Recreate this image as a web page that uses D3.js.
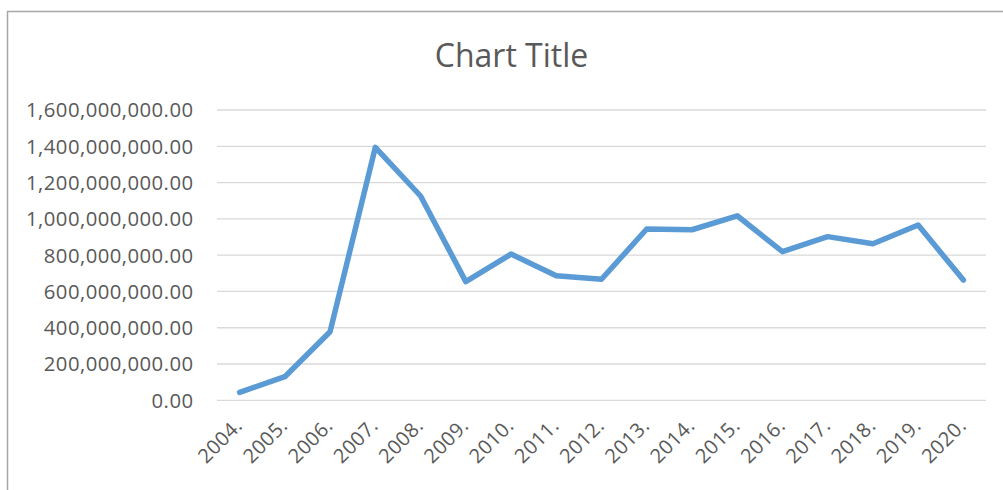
<!DOCTYPE html>
<html><head><meta charset="utf-8">
<script src="https://cdn.jsdelivr.net/npm/d3@7"></script>
<style>body{margin:0;background:#fff}svg{display:block}</style>
</head><body>
<svg id="c" width="1003" height="490"></svg>
<script>
const years = ["2004.","2005.","2006.","2007.","2008.","2009.","2010.","2011.","2012.","2013.","2014.","2015.","2016.","2017.","2018.","2019.","2020."];
const values = [44e6,130e6,378e6,1394e6,1126e6,654e6,806e6,687e6,667e6,944e6,940e6,1017e6,819e6,902e6,863e6,966e6,663e6];
const yTicks = [0,200e6,400e6,600e6,800e6,1000e6,1200e6,1400e6,1600e6];
const title = "Chart Title";

const svg = d3.select("#c");
const font = "'Open Sans', 'Noto Sans', sans-serif";
const txt = "#595959";

// border
svg.append("path").attr("d","M7.5,490 L7.5,11.5 L1003,11.5")
  .attr("fill","none").attr("stroke","#a6a6a6").attr("stroke-width",1.5);

const pL = 217, pR = 986, pT = 110, pB = 400.3;
const x = d3.scaleBand().domain(years).range([pL,pR]);
const y = d3.scaleLinear().domain([0,1600e6]).range([pB,pT]);

// grid
svg.append("g").selectAll("line").data(yTicks).join("line")
  .attr("x1",pL).attr("x2",pR)
  .attr("y1",d=>y(d)).attr("y2",d=>y(d))
  .attr("stroke","#d9d9d9").attr("stroke-width",1.3);

// y axis labels
const fmt = d3.format(",.2f");
const yAxis = d3.axisLeft(y).tickValues(yTicks).tickFormat(fmt).tickSize(0).tickPadding(0);
const gy = svg.append("g").attr("transform","translate(193.5,0)").call(yAxis);
gy.select(".domain").remove();
gy.selectAll("text").attr("font-family",font).attr("font-size","20.3px").attr("fill",txt)
  .attr("letter-spacing","0.45px").attr("dy","0.34em");

// x axis labels
const xAxis = d3.axisBottom(x).tickSize(0).tickPadding(0);
const gx = svg.append("g").call(xAxis);
gx.select(".domain").remove();
gx.selectAll(".tick").attr("transform",d=>`translate(${x(d)+x.bandwidth()/2+4},427)`);
gx.selectAll("text").attr("font-family",font).attr("font-size","20px").attr("fill",txt)
  .attr("letter-spacing","0.4px")
  .attr("text-anchor","end").attr("dy","0").attr("y",0).attr("x",0)
  .attr("transform","rotate(-45)");

// line
const line = d3.line().x((d,i)=>x(years[i])+x.bandwidth()/2).y(d=>y(d));
svg.append("path").datum(values).attr("d",line)
  .attr("fill","none").attr("stroke","#5b9bd5").attr("stroke-width",5.5)
  .attr("stroke-linejoin","round").attr("stroke-linecap","round");

// title
svg.append("text").attr("x",511.5).attr("y",66.5).attr("text-anchor","middle")
  .attr("font-family",font).attr("font-size","32px").attr("fill",txt).text(title);
</script>
</body></html>
